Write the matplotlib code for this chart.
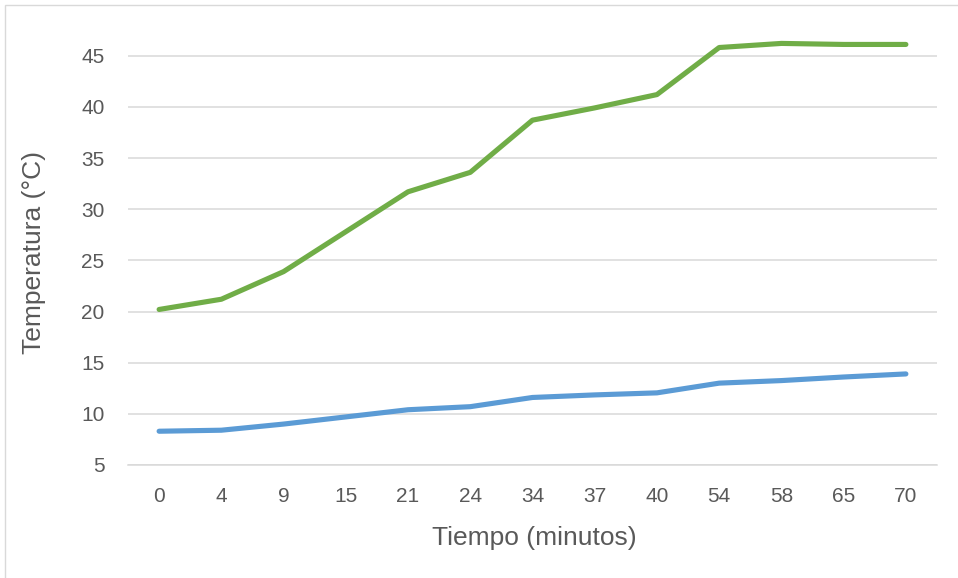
import matplotlib
matplotlib.use("Agg")
import matplotlib.pyplot as plt
from matplotlib.patches import Rectangle

tiempo = ["0", "4", "9", "15", "21", "24", "34", "37", "40", "54", "58", "65", "70"]
serie_verde = [20.2, 21.2, 23.9, 27.8, 31.7, 33.6, 38.7, 39.9, 41.2, 45.8, 46.2, 46.1, 46.1]
serie_azul = [8.3, 8.4, 9.0, 9.7, 10.4, 10.7, 11.6, 11.85, 12.05, 13.0, 13.25, 13.6, 13.9]
yticks = [5, 10, 15, 20, 25, 30, 35, 40, 45]

plt.rcParams['font.family'] = ['Liberation Sans', 'DejaVu Sans']

W, H = 958, 578
fig = plt.figure(figsize=(W/100, H/100), dpi=100)
ax = fig.add_axes([128/W, 1-465/H, (937-128)/W, (465-25)/H])

x = list(range(len(tiempo)))
ax.plot(x, serie_azul, color="#5B9BD5", lw=3.7, solid_capstyle="round", solid_joinstyle="round", zorder=3)
ax.plot(x, serie_verde, color="#70AD47", lw=3.7, solid_capstyle="round", solid_joinstyle="round", zorder=3)

ax.set_xlim(-0.5, len(tiempo)-0.5)
ax.set_ylim(5, 48)
ax.set_yticks(yticks)
ax.set_xticks(x)
ax.set_xticklabels(tiempo)
ax.yaxis.grid(True, color="#D9D9D9", lw=1.1)
ax.set_axisbelow(True)
for s in ["top", "right", "left"]:
    ax.spines[s].set_visible(False)
ax.spines["bottom"].set_color("#D9D9D9")
ax.spines["bottom"].set_linewidth(1.1)
ax.tick_params(axis="both", length=0, labelsize=15, labelcolor="#595959")
ax.tick_params(axis="y", pad=17)
ax.tick_params(axis="x", pad=16)

fig.text(534/W, 1-538/H, "Tiempo (minutos)", fontsize=19, color="#595959", ha="center", va="center")
fig.text(34/W, 1-252/H, "Temperatura (°C)", fontsize=19, color="#595959", ha="center", va="center", rotation=90)

fig.patches.append(Rectangle((5/W, -0.01), 1.02, 1-5/H+0.01, transform=fig.transFigure,
                             fill=False, edgecolor="#D9D9D9", lw=1))

fig.savefig("out.png", dpi=100)
